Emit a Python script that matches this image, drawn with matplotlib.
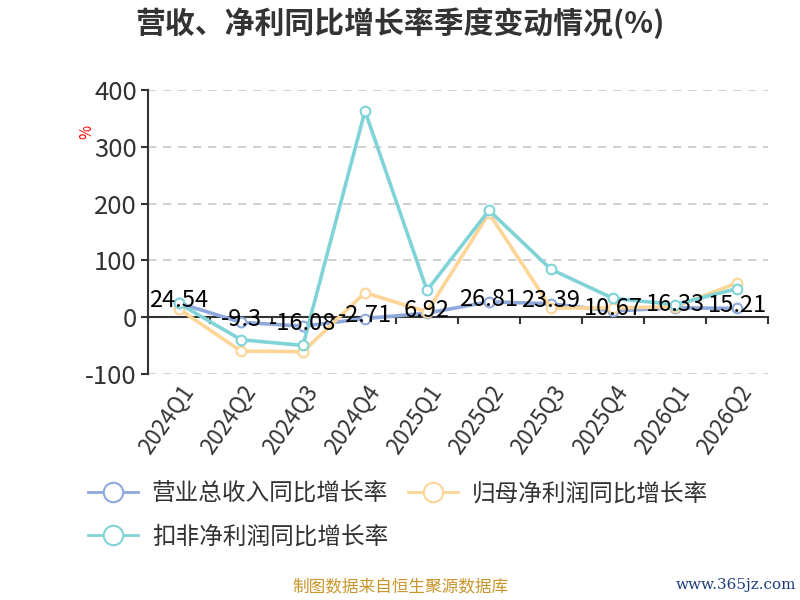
import numpy as np
import matplotlib.pyplot as plt
from matplotlib.lines import Line2D

plt.rcParams['font.family'] = ['Noto Sans CJK SC', 'DejaVu Sans']
plt.rcParams['axes.unicode_minus'] = False

# ==========================
# 数据
# ==========================
quarters = ["2024Q1", "2024Q2", "2024Q3", "2024Q4", "2025Q1",
            "2025Q2", "2025Q3", "2025Q4", "2026Q1", "2026Q2"]

revenue = [24.54, -9.3, -16.08, -2.71, 6.92, 26.81, 23.39, 10.67, 16.33, 15.21]
net_profit = [14, -60, -61, 43, 9, 183, 16, 16, 18, 60]
deducted_profit = [24, -40, -50, 363, 47, 188, 84, 33, 22, 50]

names = ["营业总收入同比增长率", "归母净利润同比增长率", "扣非净利润同比增长率"]
colors = ["#8fa9dc", "#fdd597", "#80d4d8"]

yticks = [-100, 0, 100, 200, 300, 400]

# ==========================
# 图
# ==========================
fig = plt.figure(figsize=(8, 6), dpi=100)
ax = fig.add_axes([0.185, 0.377, 0.775, 0.473])

x = np.arange(len(quarters))
series = [revenue, net_profit, deducted_profit]
for vals, c in zip(series, colors):
    ax.plot(x, vals, color=c, linewidth=2.6, marker='o', markersize=7,
            markerfacecolor='white', markeredgecolor=c, markeredgewidth=1.5,
            zorder=3)

for xi, v in zip(x, revenue):
    ax.annotate(f"{v:g}", (xi, v), xytext=(0, 2), textcoords='offset points',
                ha='center', va='center', fontsize=17, color='black', zorder=5)

ax.set_xlim(-0.5, len(quarters) - 0.5)
ax.set_ylim(-100, 400)
ax.set_yticks(yticks)
ax.tick_params(axis='y', labelsize=18.5, labelcolor='#333333', color='#333333',
               length=5, width=1.5, pad=3)
for v in yticks:
    if v != 0:
        ax.axhline(v, color='#c8c8c8', linestyle=(0, (5, 4)), linewidth=1.2, zorder=1)

ax.set_xticks(x)
ax.set_xticklabels(quarters, rotation=55, ha='right', rotation_mode='anchor',
                   fontsize=16, color='#333333')
ax.tick_params(axis='x', length=0, pad=5)

for s in ['top', 'right', 'bottom']:
    ax.spines[s].set_visible(False)
ax.spines['left'].set_color('#333333')
ax.spines['left'].set_linewidth(1.5)

# eixo x em y=0
sec = ax.secondary_xaxis(100 / 500)
sec.set_xticks(np.arange(len(quarters) + 1) - 0.5)
sec.set_xticklabels([])
sec.tick_params(length=5, width=1.5, color='#333333')
sec.spines['bottom'].set_color('#333333')
sec.spines['bottom'].set_linewidth(1.5)

fig.text(0.108, 0.78, "%", color='red', fontsize=11, rotation=90,
         ha='center', va='center')

fig.text(0.5, 0.962, "营收、净利同比增长率季度变动情况(%)", ha='center', va='center',
         fontsize=21.5, fontweight='bold', color='#333333')

handles = [Line2D([0], [0], color=c, linewidth=2, marker='o', markersize=14,
                  markerfacecolor='white', markeredgecolor=c, markeredgewidth=1.5)
           for c in colors]
fig.legend([handles[0], handles[2], handles[1]], [names[0], names[2], names[1]],
           ncol=2, loc='upper left', bbox_to_anchor=(0.11, 0.196),
           borderaxespad=0, borderpad=0,
           frameon=False, fontsize=17, handlelength=2.1, handletextpad=0.6,
           columnspacing=0.85, labelspacing=0.85, labelcolor='#333333')

fig.text(0.5, 0.02, "制图数据来自恒生聚源数据库", ha='center', va='center',
         fontsize=12, color='#c8962a')
fig.text(0.92, 0.025, "www.365jz.com", ha='center', va='center',
         fontsize=11, color='#1d3c78', family='DejaVu Serif')

plt.savefig("out.png", dpi=100)
plt.close()
